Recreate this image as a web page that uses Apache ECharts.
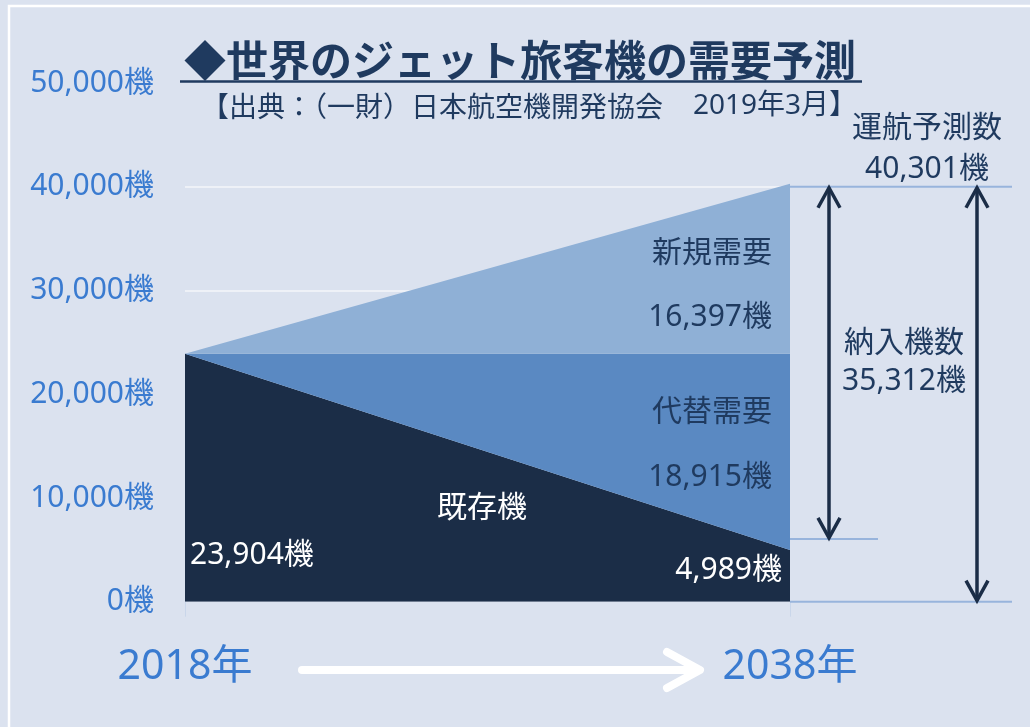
<!DOCTYPE html>
<html><head><meta charset="utf-8">
<script src="https://cdn.jsdelivr.net/npm/echarts@6/dist/echarts.min.js"></script>
<style>html,body{margin:0;padding:0;background:#dbe2ef}#c{width:1030px;height:727px}</style>
</head><body><div id="c"></div><script>
const years = ['2018年', '2038年'];
const existing = [23904, 4989];
const replacement = [0, 18915];
const newDemand = [0, 16397];
const yTicks = [0, 10000, 20000, 30000, 40000, 50000];
const operatingTotal = 40301;
const deliveries = 35312;
const titleText = '◆世界のジェット旅客機の需要予測';
const sourceParts = ['【出典：（一財）日本航空機開発協会', '2019年3月】'];
const seriesNames = ['既存機', '代替需要', '新規需要'];

const FONT = '"Noto Sans", "Noto Sans CJK JP", sans-serif';
const JFONT = '"Noto Sans CJK JP", "Noto Sans", sans-serif';
const NAVY = '#1f3a5f';
const fmt = v => v.toLocaleString('en-US') + '機';

const chart = echarts.init(document.getElementById('c'), null, {renderer: 'canvas'});
const option = {
  backgroundColor: '#dbe2ef',
  animation: false,
  grid: {left: 185, right: 240, top: 83.2, bottom: 125.3},
  xAxis: {
    type: 'category', data: years, boundaryGap: false,
    axisLine: {show: false},
    axisTick: {show: true, length: 15, lineStyle: {color: '#c9d6ea', width: 1}},
    axisLabel: {fontSize: 41, color: '#3a7bd0', margin: 45, fontFamily: FONT},
    splitLine: {show: false}
  },
  yAxis: {
    type: 'value', min: yTicks[0], max: yTicks[yTicks.length - 1], interval: yTicks[1] - yTicks[0],
    axisLabel: {formatter: fmt, fontSize: 30, color: '#3a7bd0', margin: 31, fontFamily: FONT},
    splitLine: {lineStyle: {color: ['transparent', '#eef1f7', '#eef1f7', '#eef1f7', '#eef1f7', 'transparent'], width: 2}},
    axisLine: {show: false}, axisTick: {show: false}
  },
  series: [
    {name: seriesNames[0], type: 'line', stack: 't', data: existing, symbol: 'none', lineStyle: {width: 0}, areaStyle: {color: '#1b2d47', opacity: 1}},
    {name: seriesNames[1], type: 'line', stack: 't', data: replacement, symbol: 'none', lineStyle: {width: 0}, areaStyle: {color: '#5a89c2', opacity: 1}},
    {name: seriesNames[2], type: 'line', stack: 't', data: newDemand, symbol: 'none', lineStyle: {width: 0}, areaStyle: {color: '#8fb0d6', opacity: 1}}
  ]
};
chart.setOption(option);

const p = (i, v) => chart.convertToPixel({gridIndex: 0}, [i, v]);
const x18 = p(0, 0)[0], x38 = p(1, 0)[0], y0 = p(1, 0)[1];
const yTop = p(1, existing[1] + replacement[1] + newDemand[1])[1] + 3;
const yExist = p(1, existing[1])[1] - 11;

function txt(text, x, y, size, color, align, weight, fam) {
  return {type: 'text', x: x, y: y, style: {text: text, fill: color, font: (weight || 'normal') + ' ' + size + 'px ' + (fam || FONT), align: align, verticalAlign: 'middle'}, z: 100};
}
function line(x1, y1, x2, y2, color, w) {
  return {type: 'line', shape: {x1: x1, y1: y1, x2: x2, y2: y2}, style: {stroke: color, lineWidth: w, lineCap: 'butt'}, z: 50};
}
function head(x, y, dir, color) {
  const h = 20 * dir;
  return {type: 'polyline', shape: {points: [[x - 11, y + h], [x, y], [x + 11, y + h]]}, style: {stroke: color, lineWidth: 3.5, fill: null}, z: 60};
}
const ax1 = x38 + 39, ax2 = x38 + 187;
const ARW = '#1b2d47', GUIDE = '#98b4dc';
const whiteShaft = line(x18 + 117, 670, x38 - 92, 670, '#ffffff', 8);
whiteShaft.style.lineCap = 'round';
const g = [
  {type: 'rect', shape: {x: 9, y: 6, width: 1040, height: 740}, style: {fill: null, stroke: '#ffffff', lineWidth: 2.5}, z: 10},
  txt(titleText, 184, 60, 42, NAVY, 'left', 'bold', JFONT),
  line(180, 81.5, 862, 81.5, NAVY, 2.5),
  txt(sourceParts[0], 201, 106, 28, NAVY, 'left', 'normal', JFONT),
  txt(sourceParts[1], 693, 106, 28, NAVY, 'left'),
  line(x38, yTop, x38 + 222, yTop, GUIDE, 2),
  line(x38, y0, x38 + 222, y0, GUIDE, 2),
  line(x38, yExist, x38 + 88, yExist, GUIDE, 2),
  line(ax1, yTop + 1, ax1, yExist - 1, ARW, 3.5),
  head(ax1, yTop + 1, 1, ARW), head(ax1, yExist - 1, -1, ARW),
  line(ax2, yTop + 1, ax2, y0 - 1, ARW, 3.5),
  head(ax2, yTop + 1, 1, ARW), head(ax2, y0 - 1, -1, ARW),
  txt('運航予測数', 927, 128, 30, NAVY, 'center'),
  txt(fmt(operatingTotal), 927, 169, 30, NAVY, 'center'),
  txt(seriesNames[2], x38 - 18, 253, 30, NAVY, 'right'),
  txt(fmt(newDemand[1]), x38 - 18, 317, 30, NAVY, 'right'),
  txt(seriesNames[1], x38 - 18, 412, 30, NAVY, 'right'),
  txt(fmt(replacement[1]), x38 - 18, 477, 30, NAVY, 'right'),
  txt('納入機数', 904, 343, 30, NAVY, 'center'),
  txt(fmt(deliveries), 904, 381, 30, NAVY, 'center'),
  txt(seriesNames[0], 482, 508, 30, '#ffffff', 'center'),
  txt(fmt(existing[0]), x18 + 5, 555, 30, '#ffffff', 'left'),
  txt(fmt(existing[1]), x38 - 8, 570, 30, '#ffffff', 'right'),
  whiteShaft,
  {type: 'polyline', shape: {points: [[x38 - 123, 652], [x38 - 90, 670], [x38 - 123, 688]]}, style: {stroke: '#ffffff', lineWidth: 8, lineCap: 'round', lineJoin: 'round', fill: null}, z: 60}
];
chart.setOption({graphic: g});
</script></body></html>
